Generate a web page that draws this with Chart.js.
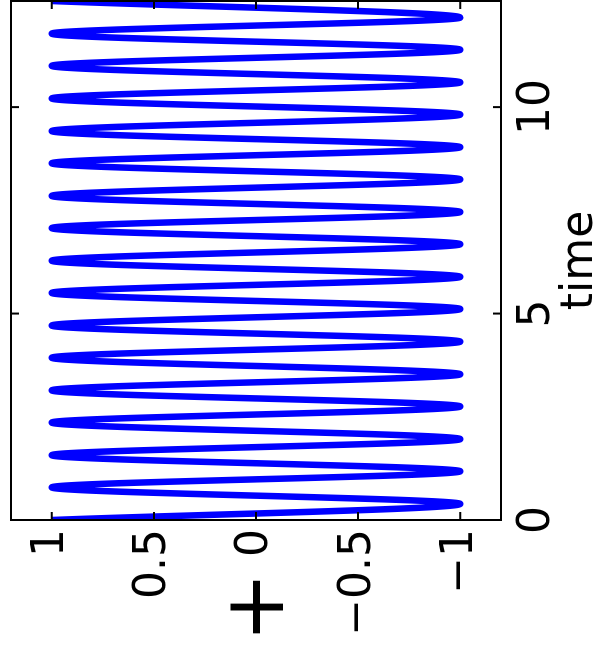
<!DOCTYPE html>
<html lang="en">
  <head>
    <meta charset="UTF-8" />
    <script src="https://cdn.jsdelivr.net/npm/chart.js"></script>
    <title>time</title>
    <style>
      html, body { margin: 0; padding: 0; background: #fff; overflow: hidden; }
      /* the plot is laid out landscape and turned a quarter turn to the left */
      #turn {
        position: absolute; left: 0; top: 0;
        width: 645px; height: 605px;
        transform-origin: 0 0;
        transform: translate(0, 645px) rotate(-90deg);
      }
    </style>
  </head>
  <body>
    <div id="turn"><canvas id="myChart" width="645" height="605"></canvas></div>
    <script>
      // turning points of the trace
      const times = [0, 0.39, 0.79, 1.18, 1.57, 1.96, 2.36, 2.75, 3.14, 3.53, 3.93,
        4.32, 4.71, 5.11, 5.50, 5.89, 6.28, 6.68, 7.07, 7.46, 7.85, 8.25, 8.64,
        9.03, 9.42, 9.82, 10.21, 10.60, 11.00, 11.39, 11.78, 12.17, 12.57];
      const values = [1, -1, 1, -1, 1, -1, 1, -1, 1, -1, 1, -1, 1, -1, 1, -1, 1,
        -1, 1, -1, 1, -1, 1, -1, 1, -1, 1, -1, 1, -1, 1, -1, 1];

      const timeTicks = [0, 5, 10];
      const timeLabels = ["0", "5", "10"];
      const valueTicks = [-1, -0.5, 0, 0.5, 1];
      const valueLabels = ["\u22121", "\u22120.5", "0", "0.5", "1"];

      const font = { family: "DejaVu Sans", size: 44 };
      Chart.defaults.color = "#000";

      // box round the plot, inward ticks on all four sides, and the y label
      const frame = {
        id: "frame",
        afterDatasetsDraw(chart) {
          const { ctx, chartArea: a, scales } = chart;
          ctx.save();
          ctx.strokeStyle = "#000";
          ctx.lineWidth = 2;
          ctx.strokeRect(a.left, a.top, a.right - a.left, a.bottom - a.top);
          ctx.beginPath();
          timeTicks.forEach((v) => {
            const px = scales.x.getPixelForValue(v);
            ctx.moveTo(px, a.bottom); ctx.lineTo(px, a.bottom - 8);
            ctx.moveTo(px, a.top); ctx.lineTo(px, a.top + 8);
          });
          valueTicks.forEach((v) => {
            const py = scales.y.getPixelForValue(v);
            ctx.moveTo(a.left, py); ctx.lineTo(a.left + 8, py);
            ctx.moveTo(a.right, py); ctx.lineTo(a.right - 8, py);
          });
          ctx.stroke();
          ctx.fillStyle = "#000";
          ctx.font = '84px "DejaVu Sans"';
          ctx.textAlign = "center";
          ctx.textBaseline = "middle";
          ctx.fillText("+", 38, (a.top + a.bottom) / 2 + 5);
          ctx.restore();
        },
      };

      const config = {
        type: "line",
        data: {
          datasets: [
            {
              data: times.map((t, i) => ({ x: t, y: values[i] })),
              borderColor: "#0000ff",
              backgroundColor: "#0000ff",
              borderWidth: 6.5,
              pointRadius: 0,
              cubicInterpolationMode: "monotone",
              fill: false,
              clip: 0,
            },
          ],
        },
        options: {
          responsive: false,
          animation: false,
          layout: { padding: { top: 11, right: 1, left: 0, bottom: 0 } },
          plugins: { legend: { display: false }, tooltip: { enabled: false } },
          scales: {
            x: {
              type: "linear",
              min: 0,
              max: 12.57,
              afterBuildTicks: (s) => { s.ticks = timeTicks.map((v) => ({ value: v })); },
              afterFit: (s) => { s.height = 104; s.paddingLeft = 0; s.paddingRight = 0; },
              ticks: {
                font: font,
                padding: 10,
                maxRotation: 0,
                autoSkip: false,
                callback: (v, i) => timeLabels[i],
              },
              grid: { display: false, drawTicks: false },
              border: { display: false },
              title: { display: true, text: "time", font: font, padding: { top: 0, bottom: -2 } },
            },
            y: {
              min: -1.2,
              max: 1.2,
              afterBuildTicks: (s) => { s.ticks = valueTicks.map((v) => ({ value: v })); },
              afterFit: (s) => { s.width = 125; s.paddingTop = 0; s.paddingBottom = 0; },
              ticks: {
                font: font,
                padding: 9,
                autoSkip: false,
                callback: (v, i) => valueLabels[i],
              },
              grid: { display: false, drawTicks: false },
              border: { display: false },
            },
          },
        },
        plugins: [frame],
      };
      const myChart = new Chart(document.getElementById("myChart"), config);
    </script>
  </body>
</html>
